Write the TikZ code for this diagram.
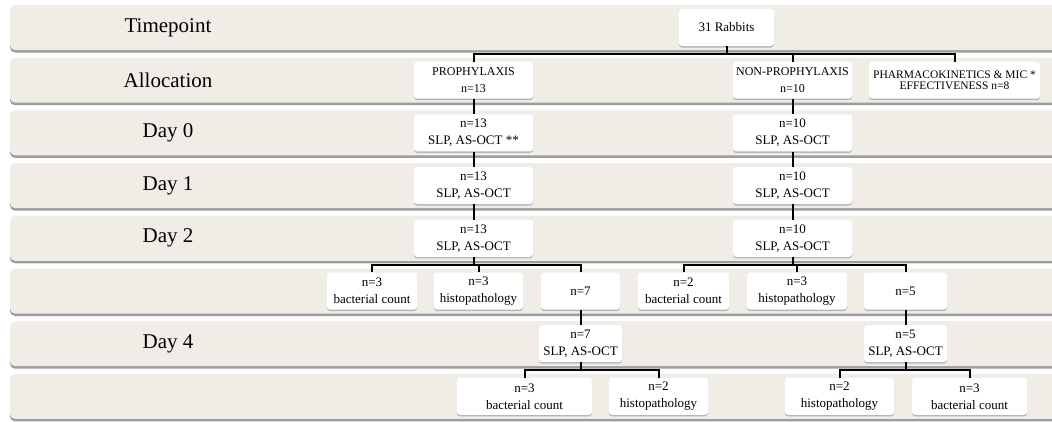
\documentclass[tikz,border=0pt]{standalone}
\usepackage{fontspec}
\setmainfont{Liberation Serif}
\usepackage{xcolor}
\usepackage{tikz}
\usetikzlibrary{shadows}

\definecolor{bandfill}{RGB}{240,237,231}

\begin{document}
\begin{tikzpicture}[x=1pt, y=-1pt,
    band/.style={fill=bandfill, rounded corners=5pt,
        drop shadow={shadow xshift=0pt, shadow yshift=-2.5pt, fill=black!70, opacity=0.55}},
    rowlabel/.style={font=\fontsize{21}{25}\selectfont},
    box/.style={fill=white, rounded corners=3pt, minimum height=37pt, inner sep=1pt,
        align=center, font=\fontsize{13}{17}\selectfont,
        drop shadow={shadow xshift=0pt, shadow yshift=-1.5pt, fill=black!50, opacity=0.5}},
    capsbox/.style={box, font=\fontsize{12}{17}\selectfont},
    link/.style={line width=2pt}]
    \useasboundingbox (0,0) rectangle (1052,421);

    % Rows
    \foreach \i in {0,...,7}
        \path[band] (10,{5+52.7*\i}) rectangle (1080,{50+52.7*\i});

    \node[rowlabel] (lbl_time) at (168,27.5) {Timepoint};
    \node[rowlabel] (lbl_alloc) at (168,80.2) {Allocation};
    \node[rowlabel] (lbl_day0) at (168,132.9) {Day 0};
    \node[rowlabel] (lbl_day1) at (168,185.6) {Day 1};
    \node[rowlabel] (lbl_day2) at (168,238.3) {Day 2};
    \node[rowlabel] (lbl_day4) at (168,343.7) {Day 4};

    % Allocation
    \node[box, minimum width=95pt] (rabbits) at (726.5,27.5) {31 Rabbits};
    \node[capsbox, minimum width=119pt] (proph) at (473.5,80.2) {PROPHYLAXIS\\n=13};
    \node[capsbox, minimum width=119pt] (nonproph) at (792.5,80.2) {NON-PROPHYLAXIS\\n=10};
    \node[box, minimum width=171pt, font=\fontsize{11.5}{11.5}\selectfont] (pharma) at (954.5,80.2)
        {PHARMACOKINETICS \& MIC *\\EFFECTIVENESS n=8};

    % Days 0 to 2
    \node[box, minimum width=119pt] (proph_d0) at (473.5,132.9) {n=13\\SLP, AS-OCT **};
    \node[box, minimum width=119pt] (proph_d1) at (473.5,185.6) {n=13\\SLP, AS-OCT};
    \node[box, minimum width=119pt] (proph_d2) at (473.5,238.3) {n=13\\SLP, AS-OCT};
    \node[box, minimum width=119pt] (non_d0) at (792.5,132.9) {n=10\\SLP, AS-OCT};
    \node[box, minimum width=119pt] (non_d1) at (792.5,185.6) {n=10\\SLP, AS-OCT};
    \node[box, minimum width=119pt] (non_d2) at (792.5,238.3) {n=10\\SLP, AS-OCT};

    % Split after day 2
    \node[box, minimum width=90pt] (proph_count) at (372,291) {n=3\\bacterial count};
    \node[box, minimum width=89pt] (proph_histo) at (478.5,291) {n=3\\histopathology};
    \node[box, minimum width=79pt] (proph_rest) at (580.5,291) {n=7};
    \node[box, minimum width=91pt] (non_count) at (683.5,291) {n=2\\bacterial count};
    \node[box, minimum width=100pt] (non_histo) at (797,291) {n=3\\histopathology};
    \node[box, minimum width=83pt] (non_rest) at (905.5,291) {n=5};

    % Day 4
    \node[box, minimum width=83pt] (proph_d4) at (580.5,343.7) {n=7\\SLP, AS-OCT};
    \node[box, minimum width=83pt] (non_d4) at (905.5,343.7) {n=5\\SLP, AS-OCT};

    \node[box, minimum width=135pt] (proph_count4) at (524.5,396.4) {n=3\\bacterial count};
    \node[box, minimum width=99pt] (proph_histo4) at (658.5,396.4) {n=2\\histopathology};
    \node[box, minimum width=109pt] (non_histo4) at (839.5,396.4) {n=2\\histopathology};
    \node[box, minimum width=115pt] (non_count4) at (969.5,396.4) {n=3\\bacterial count};

    % Connectors
    \coordinate (split_alloc) at (0,53.85);
    \draw[link] (rabbits.south) -- (rabbits.south |- split_alloc);
    \draw[link] (proph.north) -- (proph.north |- split_alloc) -| (pharma.north);
    \draw[link] (nonproph.north) -- (nonproph.north |- split_alloc);

    \draw[link] (proph) -- (proph_d0);
    \draw[link] (proph_d0) -- (proph_d1);
    \draw[link] (proph_d1) -- (proph_d2);
    \draw[link] (nonproph) -- (non_d0);
    \draw[link] (non_d0) -- (non_d1);
    \draw[link] (non_d1) -- (non_d2);

    \coordinate (split_day2) at (0,264.6);
    \draw[link] (proph_d2.south) -- (proph_d2.south |- split_day2);
    \draw[link] (proph_count.north) -- (proph_count.north |- split_day2) -| (proph_rest.north);
    \draw[link] (proph_histo.north) -- (proph_histo.north |- split_day2);
    \draw[link] (non_d2.south) -- (non_d2.south |- split_day2);
    \draw[link] (non_count.north) -- (non_count.north |- split_day2) -| (non_rest.north);
    \draw[link] (non_histo.north) -- (non_histo.north |- split_day2);

    \draw[link] (proph_rest) -- (proph_d4);
    \draw[link] (non_rest) -- (non_d4);

    \coordinate (split_day4) at (0,370.3);
    \draw[link] (proph_d4.south) -- (proph_d4.south |- split_day4);
    \draw[link] (proph_count4.north) -- (proph_count4.north |- split_day4) -| (proph_histo4.north);
    \draw[link] (non_d4.south) -- (non_d4.south |- split_day4);
    \draw[link] (non_histo4.north) -- (non_histo4.north |- split_day4) -| (non_count4.north);
\end{tikzpicture}
\end{document}
